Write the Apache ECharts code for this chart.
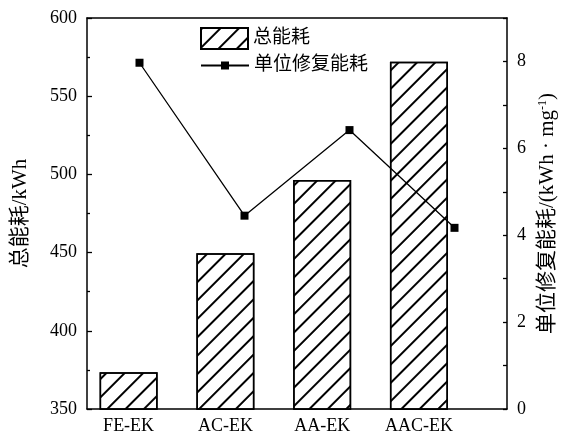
<!DOCTYPE html>
<html>
<head>
<meta charset="utf-8">
<script src="https://cdn.jsdelivr.net/npm/echarts@6/dist/echarts.min.js"></script>
<style>
  html, body { margin: 0; padding: 0; background: #fff; }
  #main { width: 567px; height: 439px; }
</style>
</head>
<body>
<div id="main"></div>
<script>
// 数据
var categories = ['FE-EK', 'AC-EK', 'AA-EK', 'AAC-EK'];
var barPos = [1, 2, 3, 4];
var totalEnergy = [373.5, 449.6, 496.4, 572.1];   // 总能耗 kWh
var unitEnergy = [7.97, 4.45, 6.42, 4.17];        // 单位修复能耗

var FONT = "'Liberation Serif', 'Noto Sans CJK SC', serif";

var myChart = echarts.init(document.getElementById('main'));

var hatch = {
    symbol: 'rect',
    symbolSize: 1,
    color: '#000',
    dashArrayX: [1, 0],
    dashArrayY: [1.2, 11],
    rotation: -Math.PI / 4
};
var barStyle = {
    color: '#fff',
    borderColor: '#000',
    borderWidth: 1.5,
    decal: hatch
};

var option = {
    backgroundColor: '#fff',
    animation: false,
    textStyle: {fontFamily: FONT, color: '#000'},
    grid: {left: 87, right: 60, top: 18, bottom: 30, outerBoundsMode: 'none'},
    legend: [
        {
            data: [{name: '总能耗', icon: 'rect'}],
            left: 195, top: 22,
            itemWidth: 47, itemHeight: 21,
            itemGap: 0,
            textStyle: {fontFamily: FONT, fontSize: 19, color: '#000'}
        },
        {
            data: ['单位修复能耗'],
            left: 195, top: 51,
            itemWidth: 48, itemHeight: 10,
            textStyle: {fontFamily: FONT, fontSize: 19, color: '#000'}
        }
    ],
    xAxis: [
        {
            type: 'value',
            min: 0.57, max: 4.91,
            position: 'bottom',
            axisLine: {lineStyle: {color: '#000', width: 1.5}},
            axisTick: {show: false},
            splitLine: {show: false},
            axisLabel: {
                customValues: barPos,
                margin: 8,
                fontSize: 18,
                color: '#000',
                fontFamily: FONT,
                formatter: function (v) { return categories[Math.round(v) - 1] || ''; }
            }
        },
        {
            type: 'category',
            data: categories,
            position: 'top',
            boundaryGap: true,
            axisLine: {show: true, lineStyle: {color: '#000', width: 1.5}},
            axisTick: {show: false},
            axisLabel: {show: false}
        }
    ],
    yAxis: [
        {
            type: 'value',
            min: 350, max: 600, interval: 50,
            name: '总能耗/kWh',
            nameLocation: 'middle',
            nameGap: 56,
            nameTextStyle: {fontSize: 21, fontFamily: FONT, color: '#000'},
            axisLine: {show: true, lineStyle: {color: '#000', width: 1.5}},
            axisTick: {inside: true, length: 5, lineStyle: {color: '#000', width: 1.3}},
            minorTick: {show: true, splitNumber: 2, length: 3, lineStyle: {color: '#000', width: 1.3}},
            splitLine: {show: false},
            axisLabel: {fontSize: 18, color: '#000', fontFamily: FONT, margin: 10}
        },
        {
            type: 'value',
            min: 0, max: 9, interval: 1,
            position: 'right',
            name: '单位修复能耗/(kWh · mg{sup|-1})',
            nameLocation: 'middle',
            nameRotate: 90,
            nameGap: 30,
            nameTextStyle: {
                fontSize: 21, fontFamily: FONT, color: '#000',
                rich: {sup: {fontSize: 12, fontFamily: FONT, color: '#000', verticalAlign: 'top'}}
            },
            axisLine: {show: true, lineStyle: {color: '#000', width: 1.5}},
            axisTick: {inside: true, length: 4, lineStyle: {color: '#000', width: 1.3}},
            splitLine: {show: false},
            axisLabel: {
                fontSize: 18, color: '#000', fontFamily: FONT, margin: 10,
                formatter: function (v) { return (v % 2 === 0 && v < 9) ? String(v) : ''; }
            }
        }
    ],
    series: [
        {
            name: '总能耗',
            type: 'bar',
            xAxisIndex: 0,
            yAxisIndex: 0,
            barWidth: 58,
            itemStyle: barStyle,
            data: barPos.map(function (x, i) { return [x, totalEnergy[i]]; })
        },
        {
            name: '单位修复能耗',
            type: 'line',
            xAxisIndex: 1,
            yAxisIndex: 1,
            symbol: 'rect',
            symbolSize: 8,
            itemStyle: {color: '#000'},
            lineStyle: {color: '#000', width: 1.3},
            data: unitEnergy
        }
    ]
};

myChart.setOption(option);
</script>
</body>
</html>
